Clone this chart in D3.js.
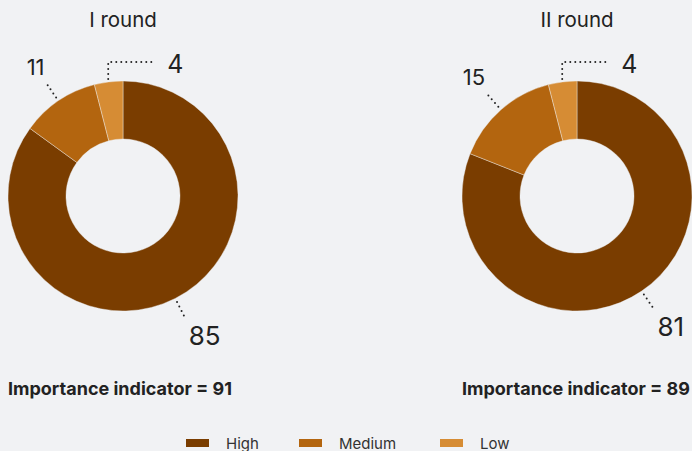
<!DOCTYPE html>
<html>
<head>
<meta charset="utf-8">
<script src="https://cdn.jsdelivr.net/npm/d3@7/dist/d3.min.js"></script>
<style>
  html, body { margin: 0; padding: 0; background: #f1f2f4; }
  svg { display: block; }
</style>
</head>
<body>
<svg id="chart" width="692" height="451"></svg>
<script>
// Survey rounds and their rating shares (percent)
const rounds = ["I round", "II round"];
const categories = ["High", "Medium", "Low"];
const roundI = [85, 11, 4];
const roundII = [81, 15, 4];
const indicators = [91, 89];
const colors = ["#7a3d00", "#b3650f", "#d68c34"];

const W = 692, H = 451;
const svg = d3.select("#chart");
const font = "Inter, 'Noto Sans', sans-serif";

const R = 115, r = 57;
const centers = [123, 577];
const cy = 196;
const labelSize = { High: 26, Medium: 22, Low: 25 };

const color = d3.scaleOrdinal().domain(categories).range(colors);
const pie = d3.pie().sort(null).value(d => d.value);
const arc = d3.arc().innerRadius(r).outerRadius(R);

function dotted(sel) {
  return sel.attr("fill", "none")
    .attr("stroke", "#222").attr("stroke-width", 2)
    .attr("stroke-linecap", "round").attr("stroke-dasharray", "0 5");
}

[roundI, roundII].forEach((vals, i) => {
  const data = categories.map((c, k) => ({ cat: c, value: vals[k] }));
  const g = svg.append("g").attr("transform", `translate(${centers[i]},${cy})`);

  // round title
  svg.append("text")
    .attr("x", centers[i]).attr("y", 27)
    .attr("text-anchor", "middle")
    .attr("font-family", font).attr("font-size", 20.5)
    .attr("fill", "#222")
    .text(rounds[i]);

  const arcs = pie(data);
  g.selectAll("path.slice").data(arcs).join("path")
    .attr("class", "slice")
    .attr("d", arc)
    .attr("fill", d => color(d.data.cat))
    .attr("stroke", "#f1f2f4").attr("stroke-width", 0.4);

  // leader lines and value labels
  arcs.forEach(a => {
    const mid = (a.startAngle + a.endAngle) / 2;
    const sx = Math.sin(mid), sy = -Math.cos(mid);
    const size = labelSize[a.data.cat];
    if (a.data.cat === "Low") {
      // thin slice at the top: up, then across to the label
      const x0 = sx * (R + 3), y0 = sy * (R + 3);
      const yTop = -R - 19;
      const path = d3.path();
      path.moveTo(x0, y0); path.lineTo(x0, yTop); path.lineTo(x0 + 47, yTop);
      dotted(g.append("path").attr("d", path.toString()));
      g.append("text")
        .attr("x", x0 + 59).attr("y", yTop + 11)
        .attr("font-family", font).attr("font-size", size)
        .attr("fill", "#222")
        .text(a.data.value);
    } else {
      const r0 = R + 4, r1 = R + 21;
      const ex = sx * r1, ey = sy * r1;
      dotted(g.append("path").attr("d", `M${sx * r0},${sy * r0}L${ex},${ey}`));
      const below = sy > 0;
      g.append("text")
        .attr("x", below ? ex + 4 : ex - 2)
        .attr("y", below ? ey + 9 + size * 0.73 : ey - 9)
        .attr("text-anchor", below ? "start" : "end")
        .attr("font-family", font).attr("font-size", size)
        .attr("fill", "#222")
        .text(a.data.value);
    }
  });

  // importance indicator caption
  svg.append("text")
    .attr("x", centers[i] - R).attr("y", 395)
    .attr("font-family", font).attr("font-size", 18).attr("font-weight", "bold")
    .attr("fill", "#222")
    .text(`Importance indicator = ${indicators[i]}`);
});

// legend
const legendX = [186, 299, 440];
const legend = svg.append("g");
categories.forEach((c, k) => {
  legend.append("rect")
    .attr("x", legendX[k]).attr("y", 439)
    .attr("width", 23).attr("height", 8)
    .attr("fill", color(c));
  legend.append("text")
    .attr("x", legendX[k] + 40).attr("y", 448.5)
    .attr("font-family", font).attr("font-size", 15)
    .attr("fill", "#333")
    .text(c);
});
</script>
</body>
</html>
